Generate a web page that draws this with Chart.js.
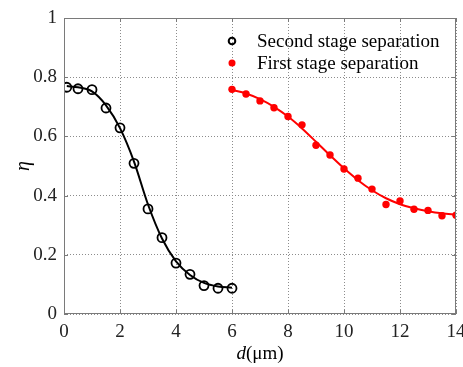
<!DOCTYPE html>
<html>
<head>
<meta charset="utf-8">
<script src="https://cdn.jsdelivr.net/npm/chart.js@4.4.0/dist/chart.umd.min.js"></script>
<style>
html,body{margin:0;padding:0;background:#fff;}
#c{display:block;}
</style>
</head>
<body>
<canvas id="c" width="463" height="367"></canvas>
<script>
// ---- data ----
const secondX = [0.1, 0.5, 1.0, 1.5, 2.0, 2.5, 3.0, 3.5, 4.0, 4.5, 5.0, 5.5, 6.0];
const secondY = [0.766, 0.761, 0.758, 0.696, 0.629, 0.509, 0.355, 0.258, 0.172, 0.134, 0.096, 0.087, 0.087];
const secondFitX = [0.1, 0.5, 1.0, 1.5, 2.0, 2.5, 3.0, 3.5, 4.0, 4.5, 5.0, 5.5, 6.0];
const secondFitY = [0.770, 0.766, 0.752, 0.705, 0.628, 0.515, 0.370, 0.255, 0.178, 0.132, 0.105, 0.093, 0.089];

const firstX = [6.0, 6.5, 7.0, 7.5, 8.0, 8.5, 9.0, 9.5, 10.0, 10.5, 11.0, 11.5, 12.0, 12.5, 13.0, 13.5, 14.0];
const firstY = [0.759, 0.743, 0.720, 0.697, 0.667, 0.639, 0.570, 0.537, 0.490, 0.459, 0.422, 0.370, 0.382, 0.354, 0.350, 0.332, 0.334];
const firstFitX = [6.0, 6.5, 7.0, 7.5, 8.0, 8.5, 9.0, 9.5, 10.0, 10.5, 11.0, 11.5, 12.0, 12.5, 13.0, 13.5, 14.0];
const firstFitY = [0.757, 0.745, 0.726, 0.700, 0.667, 0.627, 0.582, 0.536, 0.492, 0.452, 0.418, 0.391, 0.371, 0.357, 0.347, 0.340, 0.336];

const seriesNames = ["Second stage separation", "First stage separation"];
const xTicks = [0, 2, 4, 6, 8, 10, 12, 14];
const yTicks = [0, 0.2, 0.4, 0.6, 0.8, 1];
const xTitleItalic = "d";
const xTitleRest = "(\u03bcm)";
const yTitle = "\u03b7";

const pts = (xs, ys) => xs.map((x, i) => ({x: x, y: ys[i]}));
const SERIF = "'Liberation Serif', 'Times New Roman', serif";

const decor = {
  id: 'decor',
  afterDraw(chart) {
    const ctx = chart.ctx;
    const a = chart.chartArea;
    const xs = chart.scales.x, ys = chart.scales.y;
    ctx.save();
    // box
    ctx.strokeStyle = '#7a7a7a';
    ctx.lineWidth = 1;
    ctx.strokeRect(Math.round(a.left) + 0.5, Math.round(a.top) + 0.5, Math.round(a.right - a.left) - 1, Math.round(a.bottom - a.top) - 1);
    // inward ticks
    const L = 4;
    ctx.beginPath();
    xTicks.forEach(v => {
      const px = Math.round(xs.getPixelForValue(v)) + 0.5;
      ctx.moveTo(px, a.bottom); ctx.lineTo(px, a.bottom - L);
      ctx.moveTo(px, a.top); ctx.lineTo(px, a.top + L);
    });
    yTicks.forEach(v => {
      const py = Math.round(ys.getPixelForValue(v)) + 0.5;
      ctx.moveTo(a.left, py); ctx.lineTo(a.left + L, py);
      ctx.moveTo(a.right, py); ctx.lineTo(a.right - L, py);
    });
    ctx.stroke();
    // legend
    const lx = 232;
    ctx.fillStyle = '#000';
    ctx.font = "19px " + SERIF;
    ctx.textBaseline = 'middle';
    ctx.textAlign = 'left';
    ctx.beginPath();
    ctx.arc(lx, 41, 3.3, 0, Math.PI * 2);
    ctx.lineWidth = 2; ctx.strokeStyle = '#000'; ctx.stroke();
    ctx.fillText(seriesNames[0], 257, 42);
    ctx.beginPath();
    ctx.arc(lx, 63, 3.5, 0, Math.PI * 2);
    ctx.fillStyle = '#ff0000'; ctx.fill();
    ctx.fillStyle = '#000';
    ctx.fillText(seriesNames[1], 257, 64);
    // x title
    ctx.font = "italic 19px " + SERIF;
    const w1 = ctx.measureText(xTitleItalic).width;
    ctx.font = "19px " + SERIF;
    const w2 = ctx.measureText(xTitleRest).width;
    const cx = (a.left + a.right) / 2;
    let sx = cx - (w1 + w2) / 2;
    ctx.textBaseline = 'alphabetic';
    ctx.font = "italic 19px " + SERIF;
    ctx.fillText(xTitleItalic, sx, 359);
    ctx.font = "19px " + SERIF;
    ctx.fillText(xTitleRest, sx + w1, 359);
    // y title
    ctx.translate(24, (a.top + a.bottom) / 2);
    ctx.rotate(-Math.PI / 2);
    ctx.font = "italic 20px " + SERIF;
    ctx.textAlign = 'center';
    ctx.textBaseline = 'middle';
    ctx.fillText(yTitle, 0, 0);
    ctx.restore();
  }
};

new Chart(document.getElementById('c'), {
  type: 'scatter',
  data: {
    datasets: [
      {label: 'fit2', data: pts(secondFitX, secondFitY), showLine: true, borderColor: '#000', borderWidth: 2,
       pointRadius: 0, cubicInterpolationMode: 'monotone', fill: false, order: 3},
      {label: seriesNames[0], data: pts(secondX, secondY), showLine: false, pointRadius: 4.5, pointBorderWidth: 1.8,
       pointBorderColor: '#000', pointBackgroundColor: 'rgba(0,0,0,0)', order: 1},
      {label: 'fit1', data: pts(firstFitX, firstFitY), showLine: true, borderColor: '#ff0000', borderWidth: 2,
       pointRadius: 0, cubicInterpolationMode: 'monotone', fill: false, order: 4},
      {label: seriesNames[1], data: pts(firstX, firstY), showLine: false, pointRadius: 3.7, pointBorderWidth: 0,
       pointBackgroundColor: '#ff0000', order: 2}
    ]
  },
  options: {
    responsive: false,
    animation: false,
    devicePixelRatio: 1,
    layout: {padding: {top: 18, right: 7, left: 0, bottom: 0}},
    plugins: {legend: {display: false}, tooltip: {enabled: false}},
    scales: {
      x: {
        type: 'linear', min: 0, max: 14,
        afterBuildTicks: s => { s.ticks = xTicks.map(v => ({value: v})); },
        afterFit: s => { s.height = 53; s.paddingLeft = 0; s.paddingRight = 0; },
        border: {display: false, dash: [1, 2]},
        grid: {color: '#8c8c8c', lineWidth: 1, drawTicks: false},
        ticks: {color: '#222', font: {family: SERIF, size: 19}, padding: 7, maxRotation: 0}
      },
      y: {
        type: 'linear', min: 0, max: 1,
        afterBuildTicks: s => { s.ticks = yTicks.map(v => ({value: v})); },
        afterFit: s => { s.width = 64; s.paddingTop = 0; s.paddingBottom = 0; },
        border: {display: false, dash: [1, 2]},
        grid: {color: '#8c8c8c', lineWidth: 1, drawTicks: false},
        ticks: {color: '#222', font: {family: SERIF, size: 19}, padding: 7,
                callback: v => String(Math.round(v * 10) / 10)}
      }
    }
  },
  plugins: [decor]
});
</script>
</body>
</html>
